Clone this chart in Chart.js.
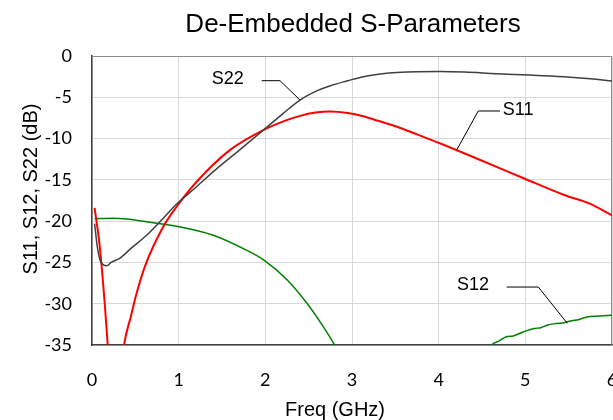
<!DOCTYPE html>
<html>
<head>
<meta charset="utf-8">
<script src="https://cdn.jsdelivr.net/npm/chart.js@4"></script>
<style>
  html, body { margin: 0; padding: 0; background: #fff; }
  #wrap { width: 613px; height: 420px; }
</style>
</head>
<body>
<div id="wrap"><canvas id="sparams" width="613" height="420"></canvas></div>
<script>
// values (GHz, dB)
const freqS11 = [0.03, 0.09, 0.15, 0.18, 0.22, 0.28, 0.33, 0.37, 0.45, 0.50, 0.61, 0.82, 0.98, 1.21, 1.59, 1.98, 2.20, 2.40, 2.58, 2.75, 2.95, 3.13, 3.30, 3.52, 3.75, 4.02, 4.48, 4.98, 5.44, 5.75, 6.00];
const s11 = [-18.4, -23.1, -30.4, -34.8, -40, -42, -39, -35, -31.5, -29.3, -25.5, -20.7, -18.2, -15.2, -11.4, -8.96, -7.95, -7.25, -6.85, -6.72, -6.9, -7.3, -7.85, -8.56, -9.5, -10.6, -12.6, -14.8, -16.8, -17.9, -19.3];

const freqS12 = [0.03, 0.25, 0.63, 1.02, 1.40, 1.78, 1.98, 2.25, 2.48, 2.67, 2.80, 2.95, 3.3, 3.7, 4.1, 4.4, 4.61, 4.70, 4.78, 4.86, 4.98, 5.10, 5.18, 5.25, 5.35, 5.45, 5.52, 5.62, 5.71, 5.85, 6.00];
const s12 = [-19.7, -19.65, -20.06, -20.7, -21.7, -23.5, -24.7, -27.1, -29.95, -32.8, -35, -38, -44, -47, -43, -38.5, -35.0, -34.5, -34.0, -33.9, -33.4, -33.0, -32.9, -32.6, -32.4, -32.3, -32.1, -31.9, -31.6, -31.5, -31.4];

const freqS22 = [0.03, 0.06, 0.10, 0.17, 0.22, 0.32, 0.45, 0.63, 0.80, 0.98, 1.20, 1.40, 1.70, 1.98, 2.20, 2.40, 2.60, 2.75, 2.95, 3.13, 3.35, 3.52, 3.75, 4.02, 4.30, 4.67, 5.05, 5.44, 5.75, 6.00];
const s22 = [-20.3, -23.0, -24.9, -25.4, -25.0, -24.5, -23.3, -21.7, -19.9, -17.9, -15.9, -14.0, -11.4, -8.96, -7.0, -5.33, -4.2, -3.6, -3.0, -2.5, -2.15, -2.0, -1.9, -1.88, -1.95, -2.15, -2.3, -2.5, -2.75, -3.03];

const xTicks = [0, 1, 2, 3, 4, 5, 6];
const yTicks = [0, -5, -10, -15, -20, -25, -30, -35];

// callout labels with leader lines, in data units (GHz, dB)
const callouts = [
  { text: 'S22', align: 'right', at: [1.75, -2.79], leader: [[1.958, -2.99], [2.169, -2.99], [2.40, -5.33]] },
  { text: 'S11', align: 'left',  at: [4.74, -6.58], leader: [[4.708, -6.66], [4.457, -6.66], [4.208, -11.38]] },
  { text: 'S12', align: 'right', at: [4.58, -27.73], leader: [[4.785, -27.98], [5.15, -27.98], [5.484, -32.37]] }
];

function pts(xs, ys) {
  return xs.map((x, i) => ({ x: x, y: ys[i] }));
}

const ARIAL = '"Liberation Sans", Arial, sans-serif';

const decor = {
  id: 'decor',
  beforeDatasetsDraw(chart) {
    const a = chart.chartArea, ctx = chart.ctx;
    ctx.save();
    ctx.strokeStyle = '#8c8c8c';
    ctx.lineWidth = 1;
    ctx.beginPath();
    ctx.moveTo(a.left, a.top + 0.5);
    ctx.lineTo(a.right - 0.5, a.top + 0.5);
    ctx.lineTo(a.right - 0.5, a.bottom);
    ctx.stroke();
    ctx.restore();
  },
  afterDraw(chart) {
    const ctx = chart.ctx;
    const xs = chart.scales.x, ys = chart.scales.y;
    ctx.save();
    ctx.fillStyle = '#000';
    // title
    ctx.font = '26px ' + ARIAL;
    ctx.textAlign = 'center';
    ctx.textBaseline = 'alphabetic';
    ctx.fillText('De-Embedded S-Parameters', 353, 32);
    // x axis title
    ctx.font = '20px ' + ARIAL;
    ctx.fillText('Freq (GHz)', 335, 416);
    // y axis title
    ctx.save();
    ctx.translate(37, 189);
    ctx.rotate(-Math.PI / 2);
    ctx.fillText('S11, S12, S22 (dB)', 0, 0);
    ctx.restore();
    // callouts
    ctx.font = '18px ' + ARIAL;
    ctx.textBaseline = 'middle';
    ctx.strokeStyle = '#000';
    ctx.lineWidth = 1;
    callouts.forEach(c => {
      ctx.textAlign = c.align;
      ctx.fillText(c.text, xs.getPixelForValue(c.at[0]), ys.getPixelForValue(c.at[1]));
      ctx.beginPath();
      c.leader.forEach((p, i) => {
        const px = xs.getPixelForValue(p[0]), py = ys.getPixelForValue(p[1]);
        if (i === 0) ctx.moveTo(px, py); else ctx.lineTo(px, py);
      });
      ctx.stroke();
    });
    ctx.restore();
  }
};

const ctx = document.getElementById('sparams');
new Chart(ctx, {
  type: 'line',
  data: {
    datasets: [
      { label: 'S22', data: pts(freqS22, s22), borderColor: '#404040', borderWidth: 1.5 },
      { label: 'S11', data: pts(freqS11, s11), borderColor: '#ff0000', borderWidth: 2 },
      { label: 'S12', data: pts(freqS12, s12), borderColor: '#008000', borderWidth: 1.5 }
    ]
  },
  options: {
    responsive: false,
    animation: false,
    devicePixelRatio: 1,
    elements: {
      point: { radius: 0 },
      line: { cubicInterpolationMode: 'monotone', fill: false }
    },
    layout: { padding: { top: 56, right: 1, left: 0, bottom: 0 } },
    plugins: {
      legend: { display: false },
      title: { display: false },
      tooltip: { enabled: false }
    },
    scales: {
      x: {
        type: 'linear',
        min: 0, max: 6,
        afterBuildTicks: s => { s.ticks = xTicks.map(v => ({ value: v })); },
        afterFit: s => { s.height = 75; s.paddingLeft = 0; s.paddingRight = 0; },
        grid: { color: '#d9d9d9', drawTicks: false },
        border: { color: '#404040', width: 1.5 },
        ticks: { padding: 24, color: '#000', maxRotation: 0, font: { family: 'Lato', size: 18 } }
      },
      y: {
        type: 'linear',
        min: -35, max: 0,
        afterBuildTicks: s => { s.ticks = yTicks.map(v => ({ value: v })); },
        afterFit: s => { s.width = 92; s.paddingTop = 0; s.paddingBottom = 0; },
        grid: { color: '#d9d9d9', drawTicks: false },
        border: { color: '#404040', width: 1.5 },
        ticks: { padding: 20, color: '#000', font: { family: 'Lato', size: 18 } }
      }
    }
  },
  plugins: [decor]
});
</script>
</body>
</html>
